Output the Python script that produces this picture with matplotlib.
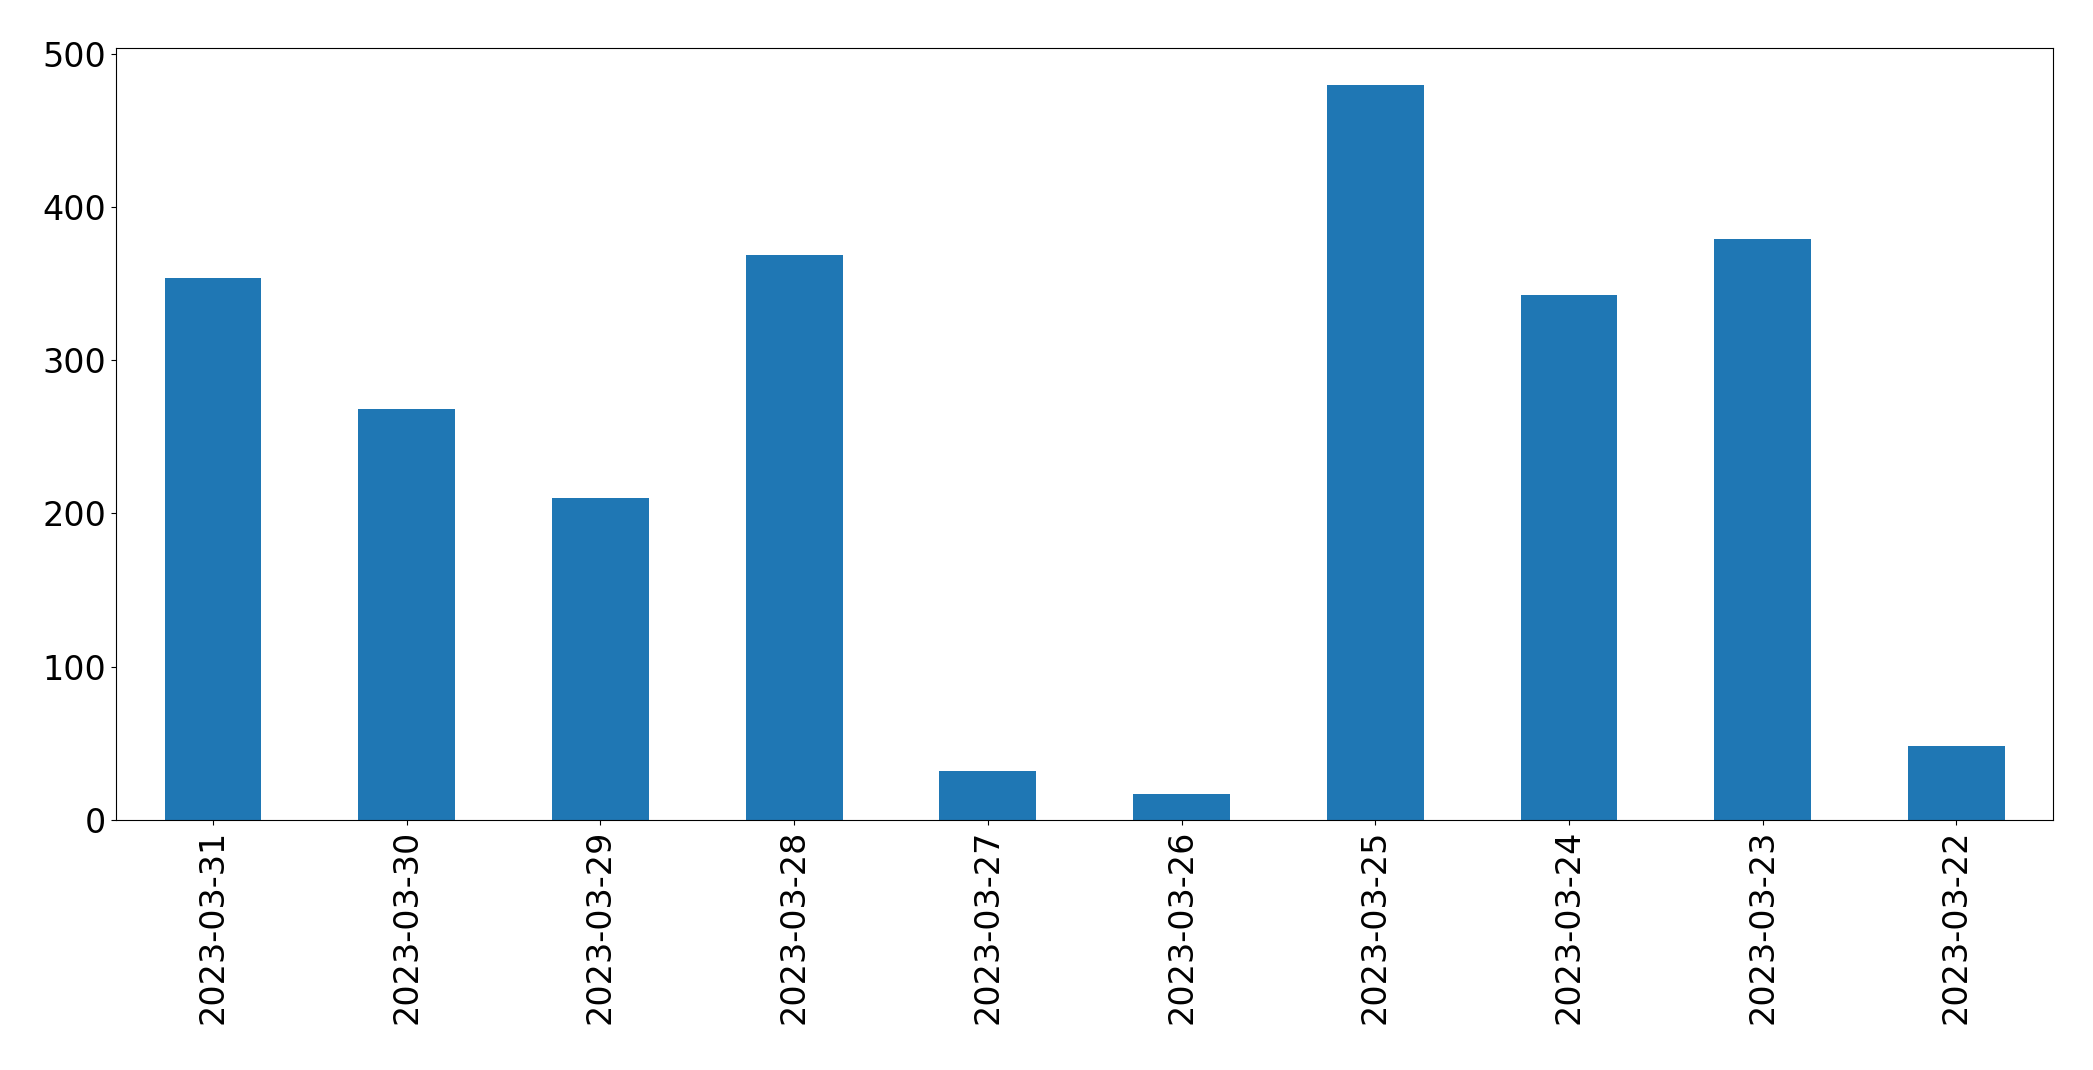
import matplotlib
matplotlib.use("Agg")
import matplotlib.pyplot as plt

dates = ["2023-03-31", "2023-03-30", "2023-03-29", "2023-03-28", "2023-03-27",
         "2023-03-26", "2023-03-25", "2023-03-24", "2023-03-23", "2023-03-22"]
counts = [354, 268, 210, 369, 32, 17, 480, 343, 379, 48]

fig = plt.figure(figsize=(20.93, 10.7), dpi=100)
ax = fig.add_axes([0.0555, 0.234, 0.9255, 0.721])
ax.bar(range(len(dates)), counts, width=0.5, color="#1f77b4")
ax.set_xlim(-0.5, len(dates) - 0.5)
ax.set_xticks(range(len(dates)))
ax.set_xticklabels(dates, rotation=90)
ax.set_yticks([0, 100, 200, 300, 400, 500])
ax.tick_params(labelsize=24)
fig.savefig("out.png", dpi=100)
